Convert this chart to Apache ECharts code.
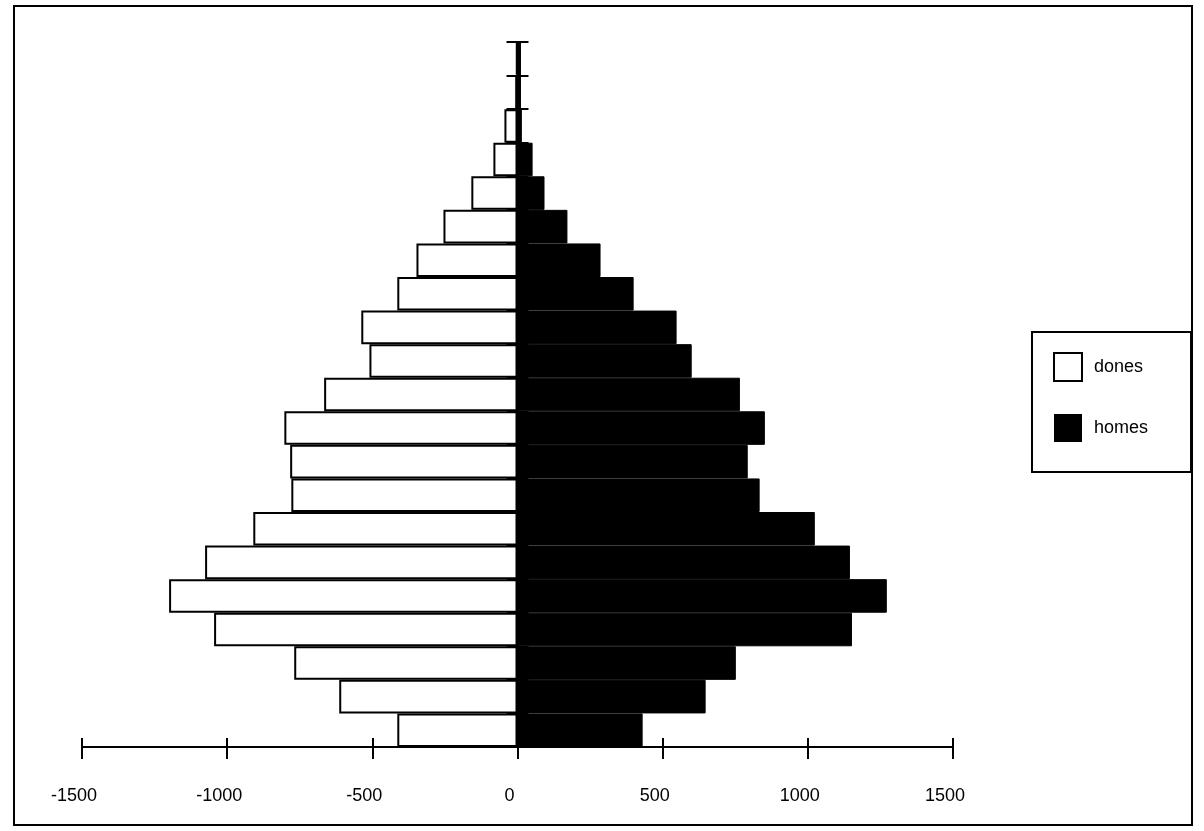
<!DOCTYPE html>
<html>
<head>
<meta charset="utf-8">
<script src="https://cdn.jsdelivr.net/npm/echarts@6/dist/echarts.min.js"></script>
<style>
html,body{margin:0;padding:0;background:#fff;}
#chart{width:1204px;height:831px;}
</style>
</head>
<body>
<div id="chart"></div>
<script>
// Age groups, bottom (youngest) to top (oldest)
const categories = ["0-4","5-9","10-14","15-19","20-24","25-29","30-34","35-39","40-44","45-49","50-54","55-59","60-64","65-69","70-74","75-79","80-84","85-89","90-94","95-99","100+"];
// dones (women), magnitudes
const dones = [414, 614, 769, 1045, 1200, 1076, 910, 779, 783, 803, 666, 510, 538, 414, 348, 255, 159, 83, 45, 8, 5];
// homes (men)
const homes = [431, 648, 752, 1152, 1272, 1145, 1024, 834, 793, 852, 766, 600, 548, 400, 286, 172, 93, 52, 15, 12, 12];
const xTicks = [-1500, -1000, -500, 0, 500, 1000, 1500];

const chart = echarts.init(document.getElementById('chart'));
const font = '"Liberation Sans", Arial, sans-serif';
const xMin = xTicks[0], xMax = xTicks[xTicks.length - 1];

chart.setOption({
  animation: false,
  backgroundColor: '#fff',
  graphic: [{
    type: 'rect',
    shape: { x: 14, y: 6, width: 1178, height: 819 },
    style: { fill: 'none', stroke: '#000', lineWidth: 2 },
    silent: true
  }],
  grid: { left: 82, right: 251, top: 42, bottom: 84, containLabel: false },
  legend: {
    orient: 'vertical',
    left: 1032,
    top: 332,
    padding: [20, 43, 30, 21],
    borderColor: '#000',
    borderWidth: 2,
    itemWidth: 28,
    itemHeight: 28,
    itemGap: 32,
    icon: 'rect',
    textStyle: { fontFamily: font, fontSize: 18, color: '#000', padding: [4, 0, 0, 7] },
    data: [
      { name: 'dones', itemStyle: { color: '#fff', borderColor: '#000', borderWidth: 2 } },
      { name: 'homes', itemStyle: { color: '#000', borderColor: '#000', borderWidth: 0 } }
    ]
  },
  xAxis: [{
    type: 'value',
    min: xMin,
    max: xMax,
    interval: 500,
    position: 'bottom',
    splitLine: { show: false },
    axisLine: { show: true, lineStyle: { color: '#000', width: 2 } },
    axisTick: { show: true, length: 12, lineStyle: { color: '#000', width: 2 } },
    axisLabel: { fontFamily: font, fontSize: 18, color: '#000', margin: 40, padding: [0, 16, 0, 0], formatter: v => String(v) }
  }, {
    type: 'value',
    min: xMin,
    max: xMax,
    interval: 500,
    position: 'bottom',
    splitLine: { show: false },
    axisLine: { show: false },
    axisTick: { show: true, inside: true, length: 9, lineStyle: { color: '#000', width: 2 } },
    axisLabel: { show: false }
  }],
  yAxis: [{
    type: 'category',
    data: categories,
    position: 'left',
    axisLine: { show: true, onZero: true, lineStyle: { color: '#000', width: 2 } },
    axisTick: { show: true, length: 11, lineStyle: { color: '#000', width: 2 } },
    axisLabel: { show: false },
    splitLine: { show: false }
  }, {
    type: 'category',
    data: categories,
    position: 'left',
    axisLine: { show: true, onZero: true, lineStyle: { color: '#000', width: 2 } },
    axisTick: { show: true, inside: true, length: 11, lineStyle: { color: '#000', width: 2 } },
    axisLabel: { show: false },
    splitLine: { show: false }
  }],
  series: [{
    name: 'dones',
    type: 'bar',
    stack: 'pyr',
    xAxisIndex: 0,
    yAxisIndex: 0,
    barCategoryGap: '0%',
    data: dones.map(v => -v),
    itemStyle: { color: '#fff', borderColor: '#000', borderWidth: 2 },
    z: 1
  }, {
    name: 'homes',
    type: 'bar',
    stack: 'pyr',
    xAxisIndex: 0,
    yAxisIndex: 0,
    barCategoryGap: '0%',
    data: homes,
    itemStyle: { color: '#000', borderColor: '#000', borderWidth: 1 },
    z: 1
  }]
});
</script>
</body>
</html>
